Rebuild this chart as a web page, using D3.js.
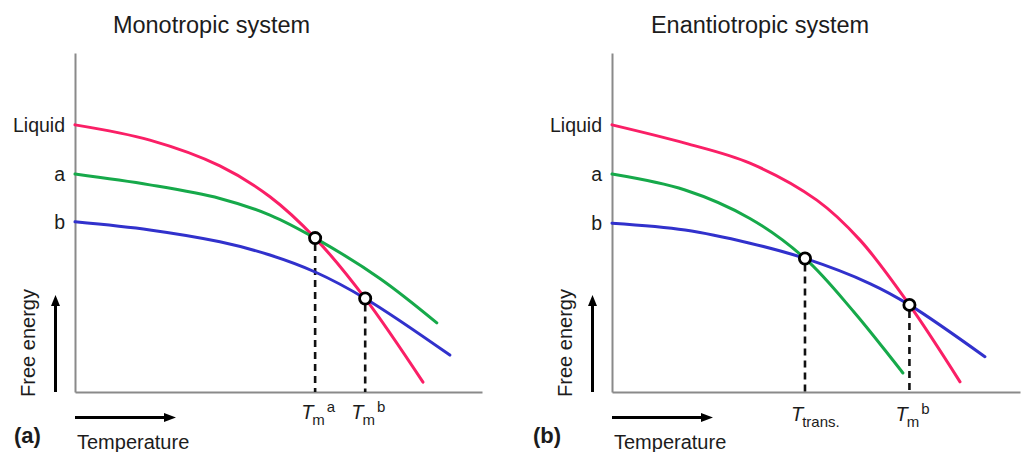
<!DOCTYPE html>
<html><head><meta charset="utf-8">
<script src="https://cdn.jsdelivr.net/npm/d3@7"></script>
<style>
html,body{margin:0;padding:0;background:#fff;}
svg{display:block;font-family:"Liberation Sans",Arial,sans-serif;}
</style>
</head><body>
<svg id="chart" width="1022" height="452"></svg>
<script>
// ---------- data ----------
const panelTitles = ["Monotropic system", "Enantiotropic system"];
const panelTags = ["(a)", "(b)"];
const phaseLabels = ["Liquid", "a", "b"];
const xAxisTitle = "Temperature";
const yAxisTitle = "Free energy";

// Monotropic system: [temperature, free energy]
const monoLiquid = [[0,78.8],[18.4,74.3],[35.6,66.7],[47.9,57.6],[59.0,45.4],[71.3,27.6],[85.5,2.9]];
const monoA      = [[0,64.3],[18.4,61.1],[35.6,57.1],[47.9,52.2],[59.0,45.4],[74.9,33.5],[88.9,20.4]];
const monoB      = [[0,50.2],[18.4,47.8],[35.6,44.3],[47.9,40.4],[59.0,35.4],[71.3,27.6],[92.1,10.9]];
const monoPointsT = [59.0, 71.3];
const monoPointsE = [45.4, 27.6];
const monoTickSub = ["m", "m"];
const monoTickSup = ["a", "b"];

// Enantiotropic system
const enanLiquid = [[0,78.8],[17.9,73.4],[33.8,67.5],[50.2,56.6],[60.8,44.8],[72.9,25.7],[85.3,3.0]];
const enanA      = [[0,64.3],[17.9,59.6],[33.8,51.2],[47.3,39.4],[59.3,23.6],[71.3,5.6]];
const enanB      = [[0,49.8],[17.9,47.8],[33.8,43.9],[47.3,39.4],[63.2,32.0],[72.9,25.7],[91.4,10.4]];
const enanPointsT = [47.3, 72.9];
const enanPointsE = [39.4, 25.7];
const enanTickSub = ["trans.", "m"];
const enanTickSup = ["", "b"];

// ---------- styles ----------
const colors = {liquid: "#fa1f66", a: "#16a94a", b: "#3131cc"};
const textColor = "#1c1c1c";
const axisColor = "#8a8a8a";

const svg = d3.select("#chart");

function drawPanel(opt) {
  const g = svg.append("g");
  const x = d3.scaleLinear().domain([0, 100]).range([opt.x0, opt.x1]);
  const y = d3.scaleLinear().domain([0, 100]).range([392, 53]);

  // title
  g.append("text").attr("x", opt.titleX).attr("y", 33)
    .attr("text-anchor", "middle").attr("font-size", 23.5).attr("fill", textColor)
    .text(opt.title);

  // y axis with phase labels
  const starts = [opt.liquid[0][1], opt.a[0][1], opt.b[0][1]];
  const yAx = g.append("g").attr("transform", `translate(${opt.x0},0)`)
    .call(d3.axisLeft(y).tickValues(starts).tickFormat((d, i) => phaseLabels[i])
      .tickSize(0).tickSizeOuter(0).tickPadding(10));
  yAx.select(".domain").attr("stroke", axisColor).attr("stroke-width", 2);
  yAx.selectAll("text").attr("font-size", 19.5).attr("fill", textColor)
    .attr("font-family", '"Liberation Sans",Arial,sans-serif');

  // x axis
  const xAx = g.append("g").attr("transform", "translate(0,392)")
    .call(d3.axisBottom(x).tickValues(opt.pointsT).tickFormat("").tickSize(0).tickSizeOuter(0));
  xAx.select(".domain").attr("stroke", axisColor).attr("stroke-width", 2);

  // dashed drop lines
  g.selectAll(".drop").data(opt.pointsT).join("line")
    .attr("x1", d => x(d)).attr("x2", d => x(d))
    .attr("y1", (d, i) => y(opt.pointsE[i]) + 6).attr("y2", y(0))
    .attr("stroke", "#111").attr("stroke-width", 2.6).attr("stroke-dasharray", "7,5");

  // curves
  const line = d3.line().x(d => x(d[0])).y(d => y(d[1])).curve(d3.curveCatmullRom.alpha(0.5));
  [["liquid", opt.liquid], ["a", opt.a], ["b", opt.b]].forEach(([k, data]) => {
    g.append("path").datum(data).attr("d", line)
      .attr("fill", "none").attr("stroke", colors[k]).attr("stroke-width", 3)
      .attr("stroke-linecap", "round");
  });

  // markers
  g.selectAll(".pt").data(opt.pointsT).join("circle")
    .attr("cx", d => x(d)).attr("cy", (d, i) => y(opt.pointsE[i])).attr("r", 5.6)
    .attr("fill", "#fff").attr("stroke", "#000").attr("stroke-width", 2.8);

  // tick labels: T_sub^sup
  opt.pointsT.forEach((t, i) => {
    const tx = g.append("text").attr("x", x(t) - 14).attr("y", opt.tickY)
      .attr("fill", textColor).attr("font-size", 20);
    tx.append("tspan").attr("font-style", "italic").text("T");
    tx.append("tspan").attr("font-size", 15).attr("dy", 6).attr("dx", -1).text(opt.sub[i]);
    if (opt.sup[i]) tx.append("tspan").attr("font-size", 15).attr("dy", -13).attr("dx", 2).text(opt.sup[i]);
  });

  // y-axis title and arrow
  const fx = opt.x0 - 40;
  g.append("text").attr("transform", `translate(${fx},343) rotate(-90)`)
    .attr("text-anchor", "middle").attr("font-size", 20).attr("fill", textColor).text(yAxisTitle);
  const ax = opt.x0 - 19.5;
  g.append("line").attr("x1", ax).attr("x2", ax).attr("y1", 392).attr("y2", 303)
    .attr("stroke", "#000").attr("stroke-width", 3);
  g.append("path").attr("d", `M${ax},295 L${ax - 4.5},306 L${ax + 4.5},306 Z`).attr("fill", "#000");

  // x-axis arrow and title
  const ay = 417.5;
  g.append("line").attr("x1", opt.x0).attr("x2", opt.x0 + 90).attr("y1", ay).attr("y2", ay)
    .attr("stroke", "#000").attr("stroke-width", 3);
  g.append("path").attr("d", `M${opt.x0 + 101},${ay} L${opt.x0 + 89},${ay - 4.5} L${opt.x0 + 89},${ay + 4.5} Z`).attr("fill", "#000");
  g.append("text").attr("x", opt.x0 + 2).attr("y", 449).attr("font-size", 20).attr("fill", textColor).text(xAxisTitle);

  // panel tag
  g.append("text").attr("x", opt.tagX).attr("y", 443).attr("font-size", 22).attr("font-weight", "bold")
    .attr("fill", textColor).text(opt.tag);
}

drawPanel({x0: 75, x1: 482, titleX: 211.5, title: panelTitles[0], tag: panelTags[0], tagX: 14,
  liquid: monoLiquid, a: monoA, b: monoB, pointsT: monoPointsT, pointsE: monoPointsE,
  sub: monoTickSub, sup: monoTickSup, tickY: 419});
drawPanel({x0: 612, x1: 1020, titleX: 760, title: panelTitles[1], tag: panelTags[1], tagX: 533,
  liquid: enanLiquid, a: enanA, b: enanB, pointsT: enanPointsT, pointsE: enanPointsE,
  sub: enanTickSub, sup: enanTickSup, tickY: 421});
</script>
</body></html>
